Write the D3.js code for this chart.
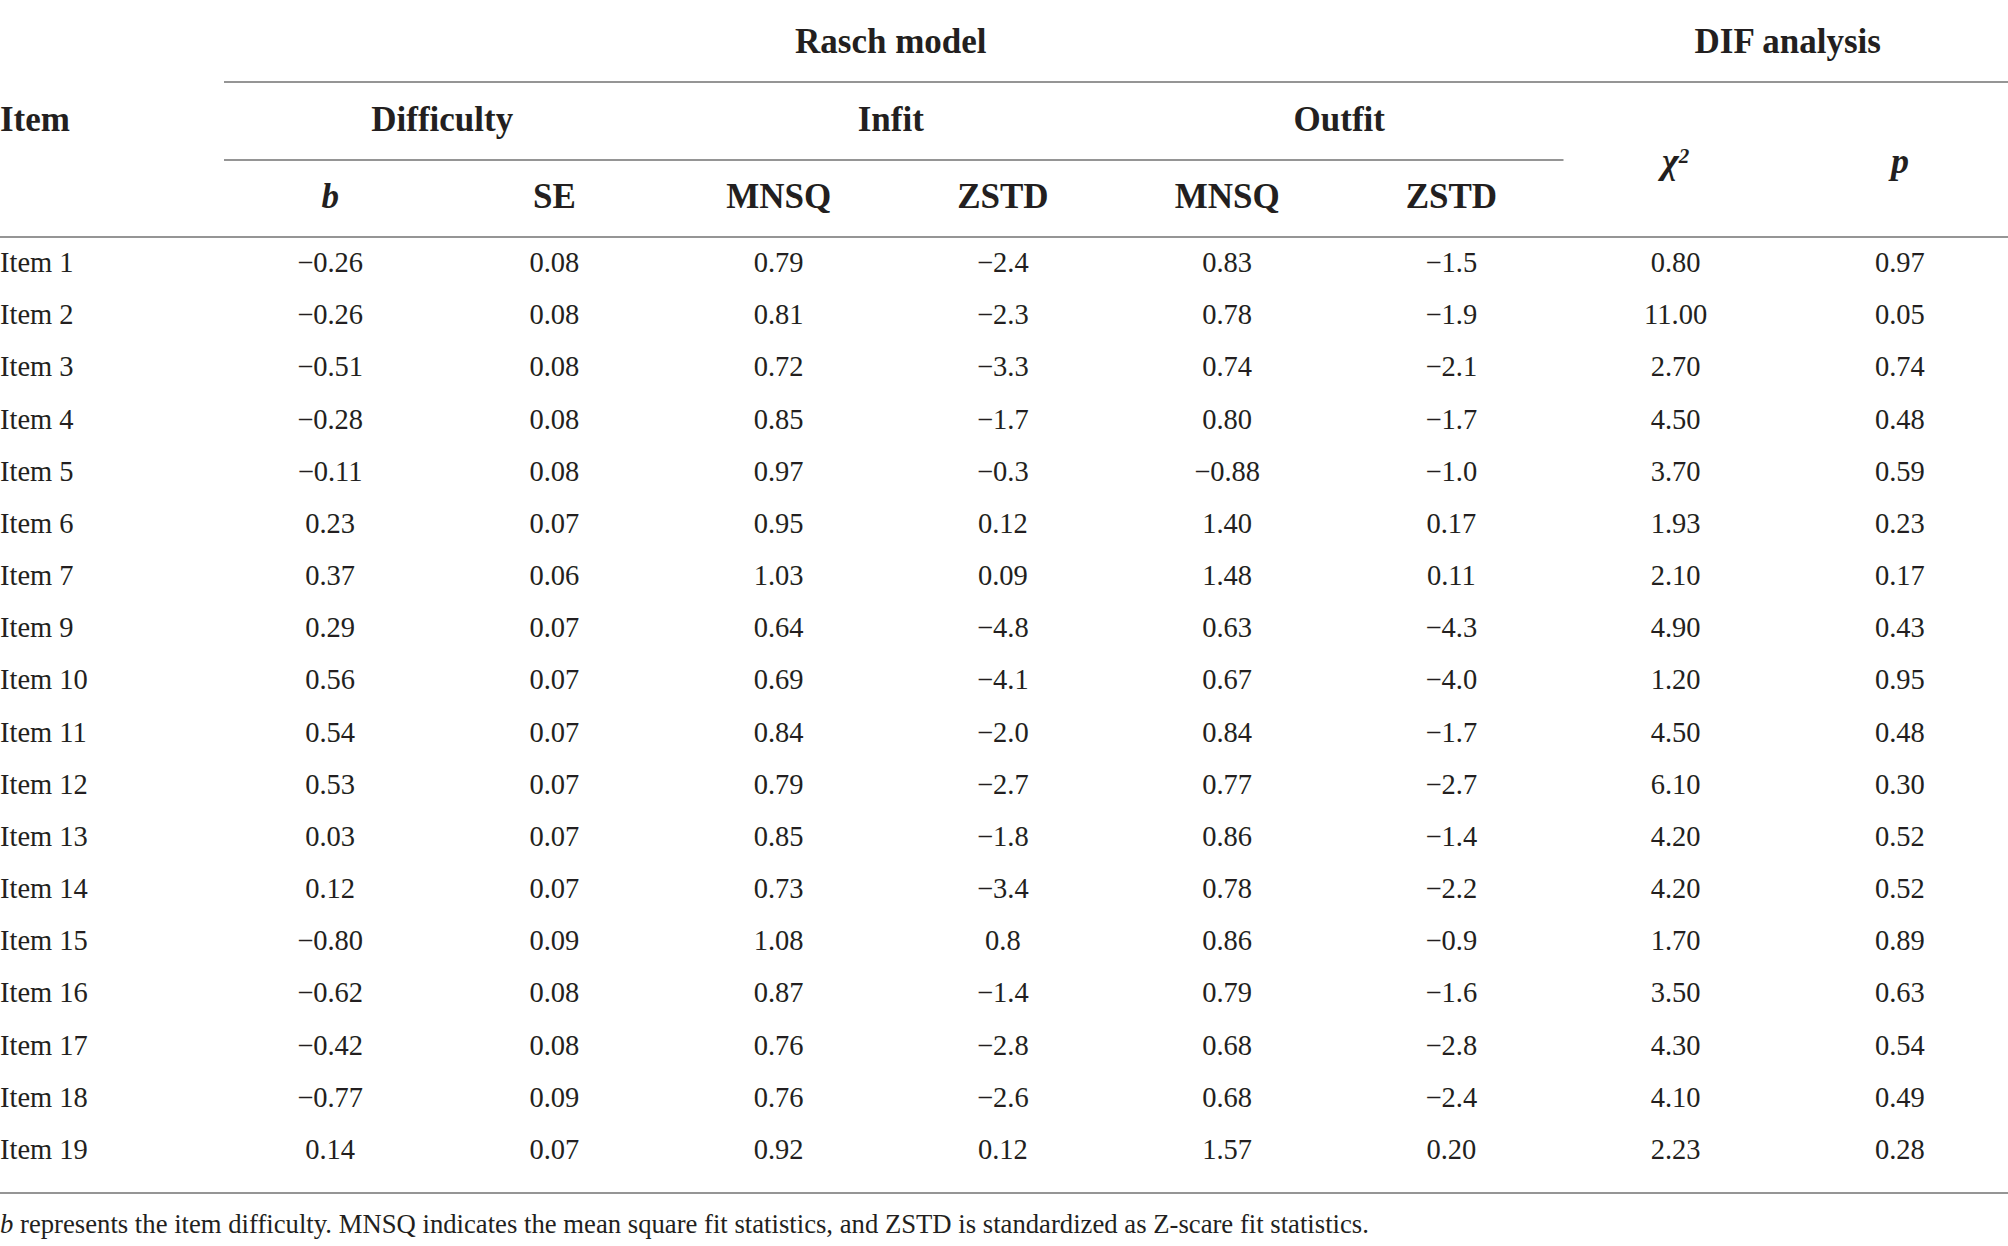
<!DOCTYPE html>
<html>
<head>
<meta charset="utf-8">
<script src="https://cdn.jsdelivr.net/npm/d3@7"></script>
<style>
  body { margin: 0; background: #fff; }
  svg text { font-family: "Liberation Serif", "DejaVu Serif", serif; fill: #231f20; }
</style>
</head>
<body>
<svg id="tbl"></svg>
<script>
let items = ["Item 1", "Item 2", "Item 3", "Item 4", "Item 5", "Item 6", "Item 7", "Item 9",
  "Item 10", "Item 11", "Item 12", "Item 13", "Item 14", "Item 15", "Item 16", "Item 17",
  "Item 18", "Item 19"];
let difficultyB = ["−0.26", "−0.26", "−0.51", "−0.28", "−0.11", "0.23", "0.37", "0.29", "0.56",
  "0.54", "0.53", "0.03", "0.12", "−0.80", "−0.62", "−0.42", "−0.77", "0.14"];
let difficultySE = ["0.08", "0.08", "0.08", "0.08", "0.08", "0.07", "0.06", "0.07", "0.07",
  "0.07", "0.07", "0.07", "0.07", "0.09", "0.08", "0.08", "0.09", "0.07"];
let infitMNSQ = ["0.79", "0.81", "0.72", "0.85", "0.97", "0.95", "1.03", "0.64", "0.69",
  "0.84", "0.79", "0.85", "0.73", "1.08", "0.87", "0.76", "0.76", "0.92"];
let infitZSTD = ["−2.4", "−2.3", "−3.3", "−1.7", "−0.3", "0.12", "0.09", "−4.8", "−4.1",
  "−2.0", "−2.7", "−1.8", "−3.4", "0.8", "−1.4", "−2.8", "−2.6", "0.12"];
let outfitMNSQ = ["0.83", "0.78", "0.74", "0.80", "−0.88", "1.40", "1.48", "0.63", "0.67",
  "0.84", "0.77", "0.86", "0.78", "0.86", "0.79", "0.68", "0.68", "1.57"];
let outfitZSTD = ["−1.5", "−1.9", "−2.1", "−1.7", "−1.0", "0.17", "0.11", "−4.3", "−4.0",
  "−1.7", "−2.7", "−1.4", "−2.2", "−0.9", "−1.6", "−2.8", "−2.4", "0.20"];
let difChi2 = ["0.80", "11.00", "2.70", "4.50", "3.70", "1.93", "2.10", "4.90", "1.20",
  "4.50", "6.10", "4.20", "4.20", "1.70", "3.50", "4.30", "4.10", "2.23"];
let difP = ["0.97", "0.05", "0.74", "0.48", "0.59", "0.23", "0.17", "0.43", "0.95",
  "0.48", "0.30", "0.52", "0.52", "0.89", "0.63", "0.54", "0.49", "0.28"];

let columns = ["b", "SE", "iMNSQ", "iZSTD", "oMNSQ", "oZSTD", "chi2", "p"];
let columnLabels = ["b", "SE", "MNSQ", "ZSTD", "MNSQ", "ZSTD"];
let groups = [
  {label: "Difficulty", from: "b", to: "SE"},
  {label: "Infit", from: "iMNSQ", to: "iZSTD"},
  {label: "Outfit", from: "oMNSQ", to: "oZSTD"}
];
let topGroups = [
  {label: "Rasch model", from: "b", to: "oZSTD"},
  {label: "DIF analysis", from: "chi2", to: "p"}
];
let footnote = " represents the item difficulty. MNSQ indicates the mean square fit statistics, and ZSTD is standardized as Z-scare fit statistics.";

let width = 2008, height = 1246;
let svg = d3.select("#tbl").attr("width", width).attr("height", height);

let x = d3.scaleBand().domain(columns).range([218, 2012]);
let y = d3.scalePoint().domain(items).range([262, 1149]);
let cx = c => x(c) + x.bandwidth() / 2;
let spanMid = g => (x(g.from) + x(g.to) + x.bandwidth()) / 2;

let lineColor = "#959595";
function hline(x1, x2, yy) {
  svg.append("line").attr("x1", x1).attr("x2", x2).attr("y1", yy).attr("y2", yy)
    .attr("stroke", lineColor).attr("stroke-width", 2);
}

// rules
hline(224, width, 82);
hline(224, x("oZSTD") + x.bandwidth(), 160);
hline(0, width, 237);
hline(0, width, 1193);

let headSize = 35;

// top header
svg.selectAll(".top").data(topGroups).enter().append("text")
  .attr("x", spanMid).attr("y", 41).attr("dy", "0.35em")
  .attr("text-anchor", "middle").attr("font-weight", "bold").attr("font-size", headSize)
  .text(d => d.label);

svg.append("text").attr("x", 0).attr("y", 119).attr("dy", "0.35em")
  .attr("font-weight", "bold").attr("font-size", headSize).text("Item");

svg.selectAll(".grp").data(groups).enter().append("text")
  .attr("x", spanMid).attr("y", 119).attr("dy", "0.35em")
  .attr("text-anchor", "middle").attr("font-weight", "bold").attr("font-size", headSize)
  .text(d => d.label);

svg.selectAll(".sub").data(columnLabels).enter().append("text")
  .attr("x", (d, i) => cx(columns[i])).attr("y", 196).attr("dy", "0.35em")
  .attr("text-anchor", "middle").attr("font-weight", "bold").attr("font-size", headSize)
  .attr("font-style", d => d === "b" ? "italic" : null)
  .text(d => d);

// chi-square and p headers
let chiT = svg.append("text").attr("x", cx("chi2")).attr("y", 160).attr("dy", "0.35em")
  .attr("text-anchor", "middle").attr("font-weight", "bold").attr("font-style", "italic")
  .attr("font-size", 36);
chiT.append("tspan").text("χ");
chiT.append("tspan").attr("dy", "-0.45em").attr("font-size", 21).text("2");
svg.append("text").attr("x", cx("p")).attr("y", 160).attr("dy", "0.35em")
  .attr("text-anchor", "middle").attr("font-weight", "bold").attr("font-style", "italic")
  .attr("font-size", 36).text("p");

// body
let bodySize = 28.5;
svg.selectAll(".item").data(items).enter().append("text")
  .attr("x", 0).attr("y", d => y(d)).attr("dy", "0.35em")
  .attr("font-size", bodySize).text(d => d);

let series = [difficultyB, difficultySE, infitMNSQ, infitZSTD, outfitMNSQ, outfitZSTD, difChi2, difP];
series.forEach((vals, ci) => {
  svg.selectAll(".c" + ci).data(vals).enter().append("text")
    .attr("x", cx(columns[ci])).attr("y", (d, i) => y(items[i])).attr("dy", "0.35em")
    .attr("text-anchor", "middle").attr("font-size", bodySize).text(d => d);
});

// footnote
let fn = svg.append("text").attr("x", 0).attr("y", 1224).attr("dy", "0.35em").attr("font-size", 26.7);
fn.append("tspan").attr("font-style", "italic").text("b");
fn.append("tspan").text(footnote);
</script>
</body>
</html>
